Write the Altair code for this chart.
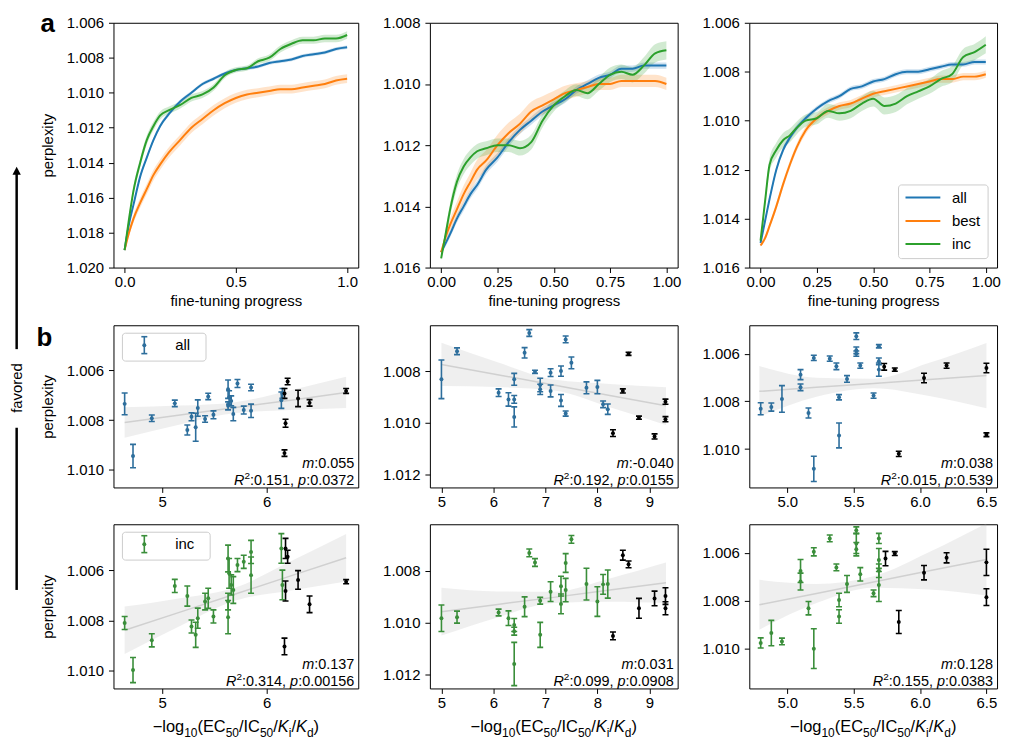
import altair as alt
import pandas as pd

FONT = "Liberation Sans"

TAB_BLUE, TAB_ORANGE, TAB_GREEN = "#1f77b4", "#ff7f0e", "#2ca02c"
PT_BLUE, PT_GREEN = "#2d6e9c", "#3a8e3a"

# ---------------- a: perplexity during fine-tuning ----------------
PROG = [0, 0.02, 0.04, 0.07, 0.1, 0.13, 0.16, 0.2, 0.25, 0.3, 0.35, 0.4,
        0.45, 0.5, 0.55, 0.6, 0.65, 0.7, 0.75, 0.8, 0.85, 0.9, 0.95, 1.0]

A1_ALL = [1.0190, 1.0175, 1.0164, 1.0148, 1.0137, 1.0127, 1.0119, 1.0112, 1.0105, 1.0100, 1.0095, 1.0092,
          1.0089, 1.0087, 1.0086, 1.0085, 1.0083, 1.0082, 1.0081, 1.0079, 1.0078, 1.0077, 1.0075, 1.0074]
A1_BEST = [1.0190, 1.0180, 1.0172, 1.0163, 1.0155, 1.0147, 1.0141, 1.0134, 1.0127, 1.0120, 1.0115, 1.0110,
           1.0106, 1.0103, 1.0101, 1.0100, 1.0099, 1.0098, 1.0098, 1.0097, 1.0096, 1.0095, 1.0093, 1.0092]
A1_INC = [1.0190, 1.0172, 1.0156, 1.0140, 1.0127, 1.0119, 1.0113, 1.0110, 1.0107, 1.0103, 1.0101, 1.0097,
          1.0090, 1.0087, 1.0086, 1.0082, 1.0080, 1.0075, 1.0072, 1.0070, 1.0070, 1.0069, 1.0069, 1.0067]
A1_ALL_CI = [0.00005, 0.0001, 0.00012, 0.00012, 0.00012, 0.00012, 0.00012, 0.00012, 0.00011, 0.0001, 0.0001, 0.0001,
             0.0001, 0.0001, 0.0001, 0.0001, 0.0001, 0.0001, 0.0001, 0.0001, 0.0001, 0.0001, 0.0001, 0.0001]
A1_BEST_CI = [0.00005, 0.00018, 0.00024, 0.00028, 0.0003, 0.0003, 0.0003, 0.0003, 0.0003, 0.0003, 0.0003, 0.0003,
              0.00029, 0.00028, 0.00027, 0.00026, 0.00025, 0.00025, 0.00025, 0.00025, 0.00025, 0.00025, 0.00025, 0.00025]
A1_INC_CI = [0.00005, 0.00018, 0.00024, 0.00026, 0.00026, 0.00025, 0.00023, 0.00021, 0.0002, 0.0002, 0.0002, 0.00019,
             0.00017, 0.00015, 0.00015, 0.00017, 0.00019, 0.0002, 0.0002, 0.0002, 0.0002, 0.00021, 0.00021, 0.00021]

A2_ALL = [1.0155, 1.0152, 1.0149, 1.0144, 1.0140, 1.0136, 1.0133, 1.0128, 1.0124, 1.0119, 1.0115, 1.0112,
          1.0109, 1.0107, 1.0105, 1.0102, 1.0100, 1.0098, 1.0097, 1.0095, 1.0095, 1.0094, 1.0094, 1.0094]
A2_BEST = [1.0155, 1.0150, 1.0146, 1.0141, 1.0136, 1.0132, 1.0128, 1.0125, 1.0120, 1.0116, 1.0113, 1.0109,
           1.0107, 1.0105, 1.0103, 1.0102, 1.0101, 1.0100, 1.0100, 1.0099, 1.0099, 1.0099, 1.0099, 1.0100]
A2_INC = [1.0157, 1.0149, 1.0141, 1.0132, 1.0127, 1.0124, 1.0122, 1.0121, 1.0120, 1.0120, 1.0121, 1.0119,
          1.0112, 1.0107, 1.0104, 1.0102, 1.0103, 1.0100, 1.0097, 1.0096, 1.0097, 1.0094, 1.0090, 1.0089]
A2_ALL_CI = [0.00005, 0.0001, 0.00012, 0.00013, 0.00014, 0.00014, 0.00014, 0.00014, 0.00014, 0.00014, 0.00013, 0.00013,
             0.00013, 0.00012, 0.00012, 0.00012, 0.00012, 0.00011, 0.00011, 0.00011, 0.0001, 0.0001, 0.0001, 0.0001]
A2_BEST_CI = [0.00005, 0.00015, 0.0002, 0.00025, 0.00028, 0.0003, 0.00032, 0.00033, 0.00034, 0.00034, 0.00033, 0.00032,
              0.0003, 0.00027, 0.00024, 0.00022, 0.0002, 0.0002, 0.0002, 0.0002, 0.0002, 0.0002, 0.0002, 0.0002]
A2_INC_CI = [0.00005, 0.00018, 0.00022, 0.00024, 0.00025, 0.00025, 0.00024, 0.00023, 0.00022, 0.00022, 0.00024, 0.00024,
             0.00022, 0.0002, 0.00019, 0.00019, 0.0002, 0.00022, 0.00024, 0.00024, 0.00025, 0.00027, 0.0003, 0.0003]

A3_ALL = [1.0150, 1.0141, 1.0132, 1.0120, 1.0112, 1.0107, 1.0103, 1.0099, 1.0095, 1.0092, 1.0090, 1.0087,
          1.0086, 1.0084, 1.0083, 1.0081, 1.0080, 1.0080, 1.0079, 1.0078, 1.0077, 1.0077, 1.0076, 1.0076]
A3_BEST = [1.0151, 1.0148, 1.0143, 1.0135, 1.0126, 1.0118, 1.0111, 1.0104, 1.0099, 1.0096, 1.0094, 1.0093,
           1.0091, 1.0089, 1.0088, 1.0087, 1.0086, 1.0085, 1.0084, 1.0083, 1.0083, 1.0082, 1.0082, 1.0081]
A3_INC = [1.0149, 1.0133, 1.0118, 1.0112, 1.0108, 1.0106, 1.0103, 1.0100, 1.0099, 1.0096, 1.0097, 1.0096,
          1.0093, 1.0091, 1.0094, 1.0093, 1.0090, 1.0088, 1.0086, 1.0083, 1.0081, 1.0074, 1.0072, 1.0069]
A3_ALL_CI = [0.00005, 0.0001, 0.00012, 0.00012, 0.00012, 0.00012, 0.00012, 0.00011, 0.0001, 0.0001, 0.0001, 0.0001,
             0.0001, 0.0001, 0.0001, 0.0001, 0.0001, 0.0001, 0.0001, 0.0001, 0.0001, 0.0001, 0.0001, 0.0001]
A3_BEST_CI = [0.00005, 0.0001, 0.00012, 0.00014, 0.00015, 0.00015, 0.00015, 0.00015, 0.00015, 0.00015, 0.00015, 0.00015,
              0.00015, 0.00015, 0.00015, 0.00015, 0.00015, 0.00015, 0.00015, 0.00015, 0.00015, 0.00015, 0.00015, 0.00015]
A3_INC_CI = [0.00005, 0.0002, 0.00028, 0.0003, 0.0003, 0.00028, 0.00026, 0.00025, 0.00025, 0.00028, 0.0003, 0.0003,
             0.0003, 0.00032, 0.00035, 0.00035, 0.00033, 0.0003, 0.0003, 0.00032, 0.00033, 0.00033, 0.00033, 0.00035]

# ---------------- b: perplexity vs. activity ----------------
# top row ("all"), columns 1-3: coloured points, black points, fit line + 95% band
B1_X = [4.64, 4.72, 4.90, 5.12, 5.24, 5.28, 5.32, 5.34, 5.41, 5.44, 5.49, 5.63, 5.63, 5.64, 5.66, 5.68,
        5.72, 5.78, 5.85, 5.85, 6.14, 6.15]
B1_Y = [1.00735, 1.00945, 1.00793, 1.00733, 1.0084, 1.00787, 1.00829, 1.00752, 1.00796, 1.00705, 1.00779,
        1.00676, 1.00743, 1.00709, 1.00723, 1.00776, 1.00653, 1.0076, 1.00763, 1.00669, 1.0072, 1.00693]
B1_E = [0.00044, 0.00047, 0.00013, 0.00013, 0.0002, 0.00016, 0.00056, 0.00033, 0.00013, 0.00013, 0.00016,
        0.00037, 0.00016, 0.00027, 0.0002, 0.00027, 0.00016, 0.00016, 0.00027, 0.00013, 0.00033, 0.0002]
B1_KX = [6.2, 6.17, 6.18, 6.17, 6.3, 6.41, 6.76]
B1_KY = [1.00645, 1.00693, 1.00813, 1.00933, 1.00713, 1.00731, 1.00683]
B1_KE = [0.00013, 0.0002, 0.00016, 0.00013, 0.00033, 0.00013, 0.0001]
B1_FX = [4.64, 5.17, 5.70, 6.23, 6.76]
B1_FY = [1.0081, 1.0078, 1.0075, 1.0072, 1.00689]
B1_FLO = [1.00749, 1.00742, 1.00728, 1.0068, 1.00626]
B1_FHI = [1.00871, 1.00818, 1.00772, 1.0076, 1.00752]

B2_X = [5.0, 5.3, 6.1, 6.29, 6.4, 6.4, 6.4, 6.6, 6.69, 6.8, 6.9, 6.9, 7.1, 7.1, 7.3, 7.3, 7.39, 7.39, 7.5,
        7.79, 8.0, 8.11, 8.2]
B2_Y = [1.00832, 1.00723, 1.00884, 1.0091, 1.00832, 1.0091, 1.00978, 1.00729, 1.00652, 1.00803, 1.00854,
        1.00871, 1.00806, 1.00877, 1.008, 1.00914, 1.00677, 1.00965, 1.00768, 1.00865, 1.00862, 1.00929, 1.00948]
B2_E = [0.00075, 0.00013, 0.00015, 0.00026, 0.00023, 0.00015, 0.00039, 0.0002, 0.00013, 0.00006, 0.00026,
        0.0002, 0.00015, 0.00023, 0.0002, 0.00023, 0.00013, 0.0001, 0.00023, 0.00023, 0.00026, 0.00013, 0.0002]
B2_KX = [8.3, 8.49, 8.6, 8.8, 9.1, 9.31, 9.31]
B2_KY = [1.01041, 1.00877, 1.00733, 1.00981, 1.01054, 1.00919, 1.00987]
B2_KE = [0.00013, 0.00008, 0.00006, 0.00006, 0.0001, 0.0001, 0.0001]
B2_FX = [5.0, 6.08, 7.16, 8.24, 9.32]
B2_FY = [1.00774, 1.00814, 1.00854, 1.00895, 1.00935]
B2_FLO = [1.0069, 1.00766, 1.00833, 1.0085, 1.00863]
B2_FHI = [1.00858, 1.00862, 1.00875, 1.0094, 1.01009]

B3_X = [4.8, 4.88, 4.96, 5.1, 5.1, 5.16, 5.2, 5.2, 5.32, 5.37, 5.39, 5.39, 5.45, 5.52, 5.52, 5.52, 5.55,
        5.65, 5.69, 5.69, 5.69]
B3_Y = [1.00831, 1.00824, 1.0079, 1.00688, 1.00741, 1.00849, 1.01083, 1.00618, 1.00621, 1.00653, 1.00783,
        1.00943, 1.00706, 1.00527, 1.00586, 1.006, 1.0065, 1.00776, 1.00569, 1.00632, 1.00667]
B3_E = [0.00025, 0.00017, 0.00056, 0.00021, 0.00014, 0.00021, 0.00053, 0.00011, 0.00011, 0.00014, 0.00011,
        0.00052, 0.00014, 0.00014, 0.00014, 0.00011, 0.00011, 0.00011, 0.00007, 0.00014, 0.00028]
B3_KX = [5.73, 5.81, 5.84, 6.03, 6.2, 6.5, 6.5]
B3_KY = [1.00655, 1.00667, 1.0102, 1.00702, 1.0065, 1.0066, 1.0094]
B3_KE = [0.00014, 0.00007, 0.00011, 0.0002, 0.00011, 0.0002, 0.00008]
B3_FX = [4.79, 5.22, 5.65, 6.07, 6.5]
B3_FY = [1.00758, 1.00741, 1.00725, 1.00708, 1.00692]
B3_FLO = [1.00652, 1.00701, 1.00705, 1.00638, 1.00555]
B3_FHI = [1.00864, 1.00781, 1.00745, 1.00778, 1.00829]

# bottom row ("inc")
C1_X = [4.64, 4.72, 4.90, 5.12, 5.24, 5.28, 5.32, 5.34, 5.41, 5.44, 5.49, 5.63, 5.63, 5.64, 5.66, 5.63,
        5.68, 5.72, 5.78, 5.85, 5.85, 6.14, 6.15]
C1_Y = [1.0081, 1.00997, 1.00879, 1.00663, 1.00703, 1.00824, 1.00857, 1.00791, 1.00725, 1.00712, 1.00784,
        1.00554, 1.00725, 1.00613, 1.00659, 1.00787, 1.00679, 1.0058, 1.00567, 1.00528, 1.0062, 1.00514, 1.00659]
C1_E = [0.00026, 0.0005, 0.00026, 0.00026, 0.0004, 0.00026, 0.0005, 0.0004, 0.00033, 0.0004, 0.00026,
        0.00053, 0.00033, 0.00059, 0.0004, 0.00066, 0.00053, 0.00026, 0.00026, 0.00046, 0.00072, 0.00059, 0.00059]
C1_KX = [6.18, 6.2, 6.18, 6.17, 6.3, 6.41, 6.76]
C1_KY = [1.00514, 1.00547, 1.00683, 1.00903, 1.00639, 1.00736, 1.00646]
C1_KE = [0.0004, 0.00026, 0.0004, 0.00033, 0.00037, 0.00033, 0.00008]
C1_FX = [4.64, 5.17, 5.70, 6.23, 6.76]
C1_FY = [1.00839, 1.00767, 1.00695, 1.00623, 1.00551]
C1_FLO = [1.00745, 1.00712, 1.00669, 1.00565, 1.00457]
C1_FHI = [1.00933, 1.00822, 1.00721, 1.00681, 1.00645]

C2_X = [5.0, 5.3, 6.1, 6.29, 6.4, 6.4, 6.4, 6.6, 6.69, 6.8, 6.9, 6.9, 7.1, 7.3, 7.3, 7.39, 7.39, 7.5,
        7.79, 8.0, 8.11, 8.2]
C2_Y = [1.00982, 1.00978, 1.0096, 1.00982, 1.01008, 1.01032, 1.01158, 1.00938, 1.00731, 1.00768, 1.00915,
        1.01046, 1.0088, 1.00859, 1.00927, 1.0077, 1.00874, 1.00679, 1.00851, 1.00918, 1.00852, 1.00851]
C2_E = [0.00051, 0.00023, 0.00013, 0.00028, 0.00025, 0.00015, 0.00083, 0.00038, 0.00015, 0.00015, 0.00013,
        0.00048, 0.00038, 0.00038, 0.00038, 0.00036, 0.00045, 0.00015, 0.00061, 0.00057, 0.00038, 0.00054]
C2_KX = [8.3, 8.49, 8.6, 8.8, 9.1, 9.31, 9.31]
C2_KY = [1.0105, 1.0074, 1.00775, 1.00944, 1.00906, 1.00897, 1.00944]
C2_KE = [0.00015, 0.00019, 0.00013, 0.00038, 0.00028, 0.00032, 0.00025]
C2_FX = [5.0, 6.08, 7.16, 8.24, 9.32]
C2_FY = [1.00957, 1.00929, 1.00902, 1.00874, 1.00846]
C2_FLO = [1.00865, 1.00879, 1.0088, 1.00829, 1.00768]
C2_FHI = [1.01049, 1.00979, 1.00924, 1.00919, 1.00924]

C3_X = [4.8, 4.88, 4.96, 5.1, 5.1, 5.16, 5.2, 5.2, 5.32, 5.37, 5.39, 5.39, 5.45, 5.52, 5.52, 5.52, 5.55,
        5.65, 5.69, 5.69, 5.69, 5.69]
C3_Y = [1.00976, 1.00935, 1.0097, 1.00676, 1.0072, 1.00831, 1.01, 1.00596, 1.0054, 1.00661, 1.00797,
        1.00866, 1.0073, 1.00506, 1.00561, 1.00585, 1.0069, 1.00769, 1.0054, 1.0063, 1.00675, 1.00734]
C3_E = [0.00021, 0.00053, 0.00014, 0.00048, 0.00035, 0.00028, 0.00083, 0.00017, 0.00014, 0.00014, 0.00028,
        0.00028, 0.00035, 0.00014, 0.00042, 0.00028, 0.00028, 0.00014, 0.00021, 0.00048, 0.00028, 0.00069]
C3_KX = [5.74, 5.81, 5.84, 6.03, 6.2, 6.5, 6.5]
C3_KY = [1.00624, 1.00603, 1.00889, 1.00683, 1.00621, 1.0064, 1.00785]
C3_KE = [0.0003, 0.00008, 0.00048, 0.0003, 0.00021, 0.00055, 0.00035]
C3_FX = [4.79, 5.22, 5.65, 6.07, 6.5]
C3_FY = [1.00817, 1.0077, 1.00722, 1.00675, 1.00628]
C3_FLO = [1.00713, 1.0073, 1.00698, 1.00597, 1.00478]
C3_FHI = [1.00921, 1.0081, 1.00746, 1.00753, 1.00778]

# fit statistics (m, R^2, p)
STATS_B = [("0.055", "0.151", "0.0372"), ("-0.040", "0.192", "0.0155"), ("0.038", "0.015", "0.539")]
STATS_C = [("0.137", "0.314", "0.00156"), ("0.031", "0.099", "0.0908"), ("0.128", "0.155", "0.0383")]

COL_W = [246, 249, 249]
ROW_H = [246, 163, 165]

ONE = pd.DataFrame({"k": [0]})

# Arial / Liberation Sans advance widths (1/1000 em) for pieced-together rich text
AW = {"−": 584, "-": 333, "l": 222, "o": 556, "g": 556, "(": 333, ")": 333, "E": 667, "C": 722,
      "/": 278, "I": 278, "K": 667, "i": 222, "d": 556, ".": 278, ":": 278, ",": 278, " ": 278,
      "m": 833, "R": 722, "p": 556, "a": 556, "n": 556, "c": 500}
for _d in "0123456789":
    AW[_d] = 556


def tw(s, fs):
    return sum(AW[c] for c in s) * fs / 1000.0


def txt(s, x, y, size=15, align="left", baseline="alphabetic", style="normal", weight="normal", angle=0):
    kw = dict(font=FONT, fontSize=size, align=align, baseline=baseline, fontStyle=style,
              fontWeight=weight, color="black")
    if angle:
        kw["angle"] = angle
    return alt.Chart(ONE).mark_text(**kw).encode(x=alt.value(x), y=alt.value(y), text=alt.value(s))


def hrule(x1, x2, y, color, width):
    return alt.Chart(ONE).mark_rule(color=color, strokeWidth=width).encode(
        x=alt.value(x1), x2=alt.value(x2), y=alt.value(y))


def vrule(x, y1, y2, color, width):
    return alt.Chart(ONE).mark_rule(color=color, strokeWidth=width).encode(
        x=alt.value(x), y=alt.value(y1), y2=alt.value(y2))


def box(x1, x2, y1, y2):
    return alt.Chart(ONE).mark_rect(fill="white", fillOpacity=0.85, stroke="#cccccc", strokeWidth=1,
                                    cornerRadius=3).encode(
        x=alt.value(x1), x2=alt.value(x2), y=alt.value(y1), y2=alt.value(y2))


def curve_panel(series, cis, y_dom, y_ticks, x_ticks, x_fmt, ytitle=None):
    names = ["all", "best", "inc"]
    df = pd.DataFrame({
        "prog": PROG * 3,
        "ppl": series[0] + series[1] + series[2],
        "ci": cis[0] + cis[1] + cis[2],
        "model": [n for n in names for _ in PROG],
    })
    xenc = alt.X("prog:Q", scale=alt.Scale(domain=[-0.05, 1.05], nice=False, zero=False),
                 axis=alt.Axis(values=x_ticks, format=x_fmt, title="fine-tuning progress"))
    ysc = alt.Scale(domain=y_dom, reverse=True, nice=False, zero=False)
    yax = alt.Axis(values=y_ticks, format=".3f", title=ytitle)
    cenc = alt.Color("model:N", legend=None,
                     scale=alt.Scale(domain=names, range=[TAB_BLUE, TAB_ORANGE, TAB_GREEN]))
    base = alt.Chart(df).transform_calculate(lo="datum.ppl - datum.ci", hi="datum.ppl + datum.ci")
    band = base.mark_area(opacity=0.22, interpolate="monotone", clip=True).encode(
        xenc, alt.Y("lo:Q", scale=ysc, axis=yax), alt.Y2("hi:Q"), cenc)
    line = base.mark_line(strokeWidth=2, interpolate="monotone", clip=True).encode(
        xenc, alt.Y("ppl:Q", scale=ysc, axis=yax), cenc)
    return [band, line]


def scatter_panel(sel, top, fit, color, x_dom, x_ticks, x_fmt, y_dom, y_ticks, ytitle=None):
    sx, sy, se = sel
    kx, ky, ke = top
    fx, fy, flo, fhi = fit
    pts = pd.DataFrame({"x": sx + kx, "y": sy + ky, "e": se + ke,
                        "grp": ["sel"] * len(sx) + ["top"] * len(kx)})
    fitdf = pd.DataFrame({"x": fx, "y": fy, "lo": flo, "hi": fhi})
    xenc = alt.X("x:Q", scale=alt.Scale(domain=x_dom, nice=False, zero=False),
                 axis=alt.Axis(values=x_ticks, format=x_fmt, title=None))
    ysc = alt.Scale(domain=y_dom, reverse=True, nice=False, zero=False)
    yax = alt.Axis(values=y_ticks, format=".3f", title=ytitle)
    cenc = alt.Color("grp:N", legend=None, scale=alt.Scale(domain=["sel", "top"], range=[color, "black"]))
    band = alt.Chart(fitdf).mark_area(color="#b0b0b0", opacity=0.2, interpolate="monotone").encode(
        xenc, alt.Y("lo:Q", scale=ysc, axis=yax), alt.Y2("hi:Q"))
    reg = alt.Chart(fitdf).mark_line(color="#d0d0d0", strokeWidth=1.5).encode(
        xenc, alt.Y("y:Q", scale=ysc, axis=yax))
    base = alt.Chart(pts).transform_calculate(lo="datum.y - datum.e", hi="datum.y + datum.e")
    bars = base.mark_rule(strokeWidth=1.6, clip=True).encode(
        xenc, alt.Y("lo:Q", scale=ysc, axis=yax), alt.Y2("hi:Q"), cenc)
    caps = [base.mark_point(shape="stroke", size=36, strokeWidth=1.6, opacity=1, clip=True).encode(
        xenc, alt.Y(f"{f}:Q", scale=ysc, axis=yax), cenc) for f in ("lo", "hi")]
    dots = base.mark_circle(size=16, opacity=1).encode(xenc, alt.Y("y:Q", scale=ysc, axis=yax), cenc)
    return [band, reg, bars] + caps + [dots]


def stats_text(m, r2, p, w, h):
    fs = 14.5
    xr = w - 4
    y1, y2 = h - 19.5, h - 2.5
    out = []
    t = ":" + m
    out.append(txt(t, xr, y1, fs, align="right"))
    out.append(txt("m", xr - tw(t, fs), y1, fs, align="right", style="italic"))
    x = xr
    t = ":" + p
    out.append(txt(t, x, y2, fs, align="right"))
    x -= tw(t, fs)
    out.append(txt("p", x, y2, fs, align="right", style="italic"))
    x -= tw("p", fs) + tw(" ", fs)
    t = ":" + r2 + ","
    out.append(txt(t, x, y2, fs, align="right"))
    x -= tw(t, fs)
    out.append(txt("2", x, y2 - 6, 10, align="right"))
    x -= tw("2", 10)
    out.append(txt("R", x, y2, fs, align="right", style="italic"))
    return out


def err_legend(label, color):
    bw = 62 + tw(label, 15) + 7
    return [box(9, 9 + bw, 8, 36),
            vrule(31, 11.5, 28.5, color, 1.6),
            hrule(28, 34, 11.5, color, 1.6),
            hrule(28, 34, 28.5, color, 1.6),
            alt.Chart(ONE).mark_circle(color=color, size=16, opacity=1).encode(
                x=alt.value(31), y=alt.value(20)),
            txt(label, 62, 20, 15, baseline="middle")]


def line_legend(w, h):
    out = [box(w - 99, w - 9, h - 83, h - 9)]
    for name, color, dy in [("all", TAB_BLUE, 70.3), ("best", TAB_ORANGE, 46.7), ("inc", TAB_GREEN, 23.7)]:
        out.append(hrule(w - 92, w - 57, h - dy, color, 2))
        out.append(txt(name, w - 45.3, h - dy, 15, baseline="middle"))
    return out


TITLE_PARTS = [("−log", "n"), ("10", "s"), ("(EC", "n"), ("50", "s"), ("/IC", "n"), ("50", "s"),
               ("/", "n"), ("K", "i"), ("i", "s"), ("/", "n"), ("K", "i"), ("d", "s"), (")", "n")]


def activity_title(w, h):
    fm, fsub = 16.5, 12
    total = sum(tw(s, fsub if k == "s" else fm) for s, k in TITLE_PARTS)
    x = w / 2 - total / 2
    out = []
    for s, k in TITLE_PARTS:
        if k == "s":
            out.append(txt(s, x, h + 49, fsub))
            x += tw(s, fsub)
        else:
            out.append(txt(s, x, h + 44, fm, style="italic" if k == "i" else "normal"))
            x += tw(s, fm)
    return out


def favored_arrow():
    head = alt.Chart(ONE).mark_point(shape="M0,-1L0.42,-0.2L-0.42,-0.2Z", size=400, filled=True,
                                     color="black", opacity=1, strokeWidth=0).encode(
        x=alt.value(-97.3), y=alt.value(-149.3))
    return [head,
            vrule(-97.3, -153, 24, "black", 2.5),
            txt("favored", -97.3, 63, 15, align="center", baseline="middle", angle=270),
            vrule(-97.3, 103, 266, "black", 2.5)]


def spacer(w, h):
    return alt.Chart(ONE).mark_point(opacity=0).encode(x=alt.value(0), y=alt.value(0)).properties(
        width=w, height=h, view=alt.ViewBackground(stroke="transparent"))


T2 = [0, 0.25, 0.5, 0.75, 1.0]

a1 = curve_panel([A1_ALL, A1_BEST, A1_INC], [A1_ALL_CI, A1_BEST_CI, A1_INC_CI], [1.006, 1.020],
                 [1.006, 1.008, 1.010, 1.012, 1.014, 1.016, 1.018, 1.020], [0, 0.5, 1.0], ".1f", "perplexity")
a1 += [txt("a", -73.3, 9, 26, weight="bold")]
a2 = curve_panel([A2_ALL, A2_BEST, A2_INC], [A2_ALL_CI, A2_BEST_CI, A2_INC_CI], [1.008, 1.016],
                 [1.008, 1.010, 1.012, 1.014, 1.016], T2, ".2f")
a3 = curve_panel([A3_ALL, A3_BEST, A3_INC], [A3_ALL_CI, A3_BEST_CI, A3_INC_CI], [1.006, 1.016],
                 [1.006, 1.008, 1.010, 1.012, 1.014, 1.016], T2, ".2f")
a3 += line_legend(COL_W[2], ROW_H[0])

XD = [[4.533, 6.876], [4.778, 9.544], [4.714, 6.58]]
XT = [([5, 6], "d"), ([5, 6, 7, 8, 9], "d"), ([5.0, 5.5, 6.0, 6.5], ".1f")]
YD_B = [[1.00419, 1.01071], [1.00622, 1.01252], [1.00481, 1.01161]]
YD_C = [[1.00418, 1.0107], [1.00621, 1.01252], [1.00481, 1.01166]]
YT = [[1.006, 1.008, 1.010], [1.008, 1.010, 1.012], [1.006, 1.008, 1.010]]

B_DATA = [((B1_X, B1_Y, B1_E), (B1_KX, B1_KY, B1_KE), (B1_FX, B1_FY, B1_FLO, B1_FHI)),
          ((B2_X, B2_Y, B2_E), (B2_KX, B2_KY, B2_KE), (B2_FX, B2_FY, B2_FLO, B2_FHI)),
          ((B3_X, B3_Y, B3_E), (B3_KX, B3_KY, B3_KE), (B3_FX, B3_FY, B3_FLO, B3_FHI))]
C_DATA = [((C1_X, C1_Y, C1_E), (C1_KX, C1_KY, C1_KE), (C1_FX, C1_FY, C1_FLO, C1_FHI)),
          ((C2_X, C2_Y, C2_E), (C2_KX, C2_KY, C2_KE), (C2_FX, C2_FY, C2_FLO, C2_FHI)),
          ((C3_X, C3_Y, C3_E), (C3_KX, C3_KY, C3_KE), (C3_FX, C3_FY, C3_FLO, C3_FHI))]

row_a = [alt.layer(*lay).properties(width=COL_W[i], height=ROW_H[0]) for i, lay in enumerate([a1, a2, a3])]

row_b, row_c = [], []
for i in range(3):
    yt = "perplexity" if i == 0 else None
    lay = scatter_panel(*B_DATA[i], PT_BLUE, XD[i], XT[i][0], XT[i][1], YD_B[i], YT[i], yt)
    lay += stats_text(*STATS_B[i], COL_W[i], ROW_H[1])
    if i == 0:
        lay += err_legend("all", PT_BLUE) + favored_arrow() + [txt("b", -77.3, 21, 26, weight="bold")]
    row_b.append(alt.layer(*lay).properties(width=COL_W[i], height=ROW_H[1]))

    lay = scatter_panel(*C_DATA[i], PT_GREEN, XD[i], XT[i][0], XT[i][1], YD_C[i], YT[i], yt)
    lay += stats_text(*STATS_C[i], COL_W[i], ROW_H[2]) + activity_title(COL_W[i], ROW_H[2])
    if i == 0:
        lay += err_legend("inc", PT_GREEN)
    row_c.append(alt.layer(*lay).properties(width=COL_W[i], height=ROW_H[2]))

cells = (row_a + [spacer(w, 58) for w in COL_W] + row_b + [spacer(w, 37) for w in COL_W] + row_c)

chart = alt.concat(
    *cells, columns=3, spacing={"row": 0, "column": 72}, bounds="flush", align="each"
).resolve_scale(
    color="independent"
).properties(
    padding={"left": 1, "top": 0, "right": 5, "bottom": 5}, background="white"
).configure(
    font=FONT
).configure_view(
    stroke="black", strokeWidth=1
).configure_axis(
    labelFont=FONT, titleFont=FONT, labelFontSize=15, titleFontSize=15, titleFontWeight="normal",
    labelColor="black", titleColor="black", tickColor="black", tickSize=5, tickWidth=1,
    labelPadding=3, domain=False, grid=False, labelFlush=False
).configure_axisY(
    labelPadding=5, titlePadding=11
).configure_axisX(
    labelPadding=2, titlePadding=4
)

chart.save("out.html", embed_options={"renderer": "svg", "actions": False})
